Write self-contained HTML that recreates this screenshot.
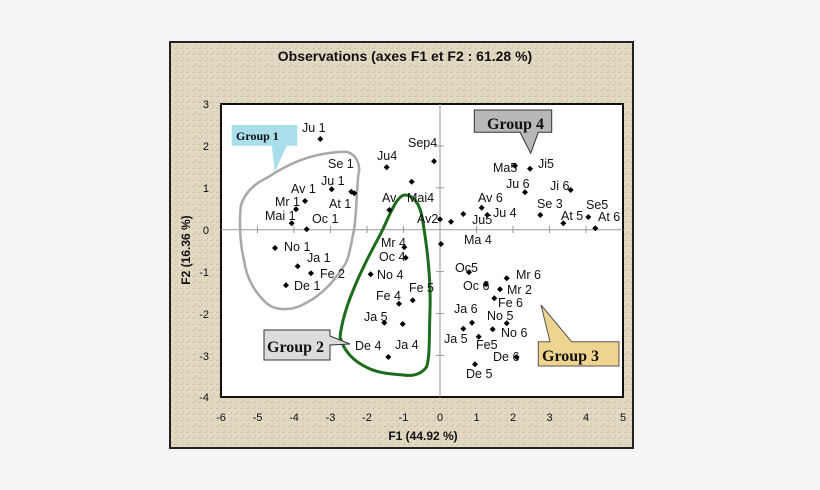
<!DOCTYPE html>
<html><head><meta charset="utf-8"><style>
html,body{margin:0;padding:0;background:#f5f5f5;width:820px;height:490px;overflow:hidden}
svg{position:absolute;left:0;top:0}
text{font-family:"Liberation Sans",sans-serif;font-size:12.5px;fill:#111}
.s{font-family:"Liberation Serif",serif;font-weight:bold}
</style></head><body>
<svg width="820" height="490" viewBox="0 0 820 490">
<defs>
<pattern id="tx" width="6" height="6" patternUnits="userSpaceOnUse">
<rect width="6" height="6" fill="#e2d9c3"/>
<rect x="0" y="0" width="3" height="1" fill="#cfc4a9"/>
<rect x="3" y="3" width="1" height="3" fill="#d4c9af"/>
</pattern>
<path id="d" d="M0,-3 L3,0 L0,3 L-3,0 Z" fill="#000"/>
</defs>
<rect x="170" y="42" width="463" height="406" fill="url(#tx)" stroke="#222" stroke-width="2"/>
<rect x="221" y="104" width="402" height="293" fill="#fff" stroke="#111" stroke-width="2"/>
<text x="405" y="61" text-anchor="middle" font-weight="bold" style="font-size:14px">Observations (axes F1 et F2 : 61.28 %)</text>
<g stroke="#999" stroke-width="1">
<line x1="440" y1="104" x2="440" y2="397"/>
<line x1="221" y1="229.7" x2="623" y2="229.7"/>
<line x1="257.5" y1="226" x2="257.5" y2="233"/><line x1="294" y1="226" x2="294" y2="233"/><line x1="330.5" y1="226" x2="330.5" y2="233"/><line x1="367" y1="226" x2="367" y2="233"/><line x1="403.5" y1="226" x2="403.5" y2="233"/><line x1="476.5" y1="226" x2="476.5" y2="233"/><line x1="513" y1="226" x2="513" y2="233"/><line x1="549.5" y1="226" x2="549.5" y2="233"/><line x1="586" y1="226" x2="586" y2="233"/>
<line x1="436" y1="145.9" x2="444" y2="145.9"/><line x1="436" y1="187.8" x2="444" y2="187.8"/><line x1="436" y1="271.6" x2="444" y2="271.6"/><line x1="436" y1="313.5" x2="444" y2="313.5"/><line x1="436" y1="355.4" x2="444" y2="355.4"/>
</g>
<g text-anchor="end" style="font-size:11px">
<text x="209" y="108" style="font-size:11px">3</text><text x="209" y="150" style="font-size:11px">2</text><text x="209" y="192" style="font-size:11px">1</text><text x="209" y="234" style="font-size:11px">0</text><text x="209" y="276" style="font-size:11px">-1</text><text x="209" y="318" style="font-size:11px">-2</text><text x="209" y="360" style="font-size:11px">-3</text><text x="209" y="401" style="font-size:11px">-4</text>
</g>
<g text-anchor="middle">
<text x="221" y="421" style="font-size:11px">-6</text><text x="257.5" y="421" style="font-size:11px">-5</text><text x="294" y="421" style="font-size:11px">-4</text><text x="330.5" y="421" style="font-size:11px">-3</text><text x="367" y="421" style="font-size:11px">-2</text><text x="403.5" y="421" style="font-size:11px">-1</text><text x="440" y="421" style="font-size:11px">0</text><text x="476.5" y="421" style="font-size:11px">1</text><text x="513" y="421" style="font-size:11px">2</text><text x="549.5" y="421" style="font-size:11px">3</text><text x="586" y="421" style="font-size:11px">4</text><text x="623" y="421" style="font-size:11px">5</text>
</g>
<text x="423" y="440" text-anchor="middle" font-weight="bold" style="font-size:12px">F1 (44.92 %)</text>
<text transform="translate(190,250) rotate(-90)" text-anchor="middle" font-weight="bold" style="font-size:12px">F2 (16.36 %)</text>
<path d="M346.7,151.7 C360,156 360,170 358.3,175 C356,200 356,225 353.3,233.3 C350,250 348,262 343.3,266.7 C332,285 318,298 300,306 C288,311 274,310 266.7,303.3 C252,290 246,275 244,260 C240,245 239,220 241,205 C246,190 258,182 266.7,178 C285,166 310,152 346.7,151.7 Z" fill="none" stroke="#a8a8a8" stroke-width="2.5"/>
<path d="M405,195 C413,195 419,203 421.7,215 C427,245 431,280 430,310 C429,340 430,355 426.7,366.7 C420,376 410,376 403.3,375 C390,374 378,373 368,368 C355,362 344,352 340,337 C342,320 347,305 353.3,290 C362,268 372,250 380,235 C388,220 396,195 405,195 Z" fill="none" stroke="#1d6b1d" stroke-width="3"/>
<path d="M231.7,125 H297.3 V145.7 H286.7 L275,171.7 L271.7,145.7 H231.7 Z" fill="#a9dfea"/>
<text x="236" y="140" class="s" style="font-size:12px">Group 1</text>
<path d="M474.3,110 H551.7 V132.3 H538.3 L530.7,153.3 L520,132.3 H474.3 Z" fill="#b8b8b8" stroke="#333" stroke-width="1"/>
<text x="487" y="129" class="s" style="font-size:16px">Group 4</text>
<path d="M264,330 H330 V336 L350,344 L330,345 V360 H264 Z" fill="#dcdcdc" stroke="#333" stroke-width="1"/>
<text x="267" y="352" class="s" style="font-size:16px">Group 2</text>
<path d="M538.3,341.7 H550 L541,305 L571.7,341.7 H619 V366 H538.3 Z" fill="#efd48f" stroke="#555" stroke-width="1"/>
<text x="542" y="361" class="s" style="font-size:16px">Group 3</text>
<g>
<use href="#d" x="320.3" y="139"/><use href="#d" x="331.7" y="189.3"/><use href="#d" x="351.3" y="191.7"/><use href="#d" x="354.3" y="193.3"/><use href="#d" x="305" y="201"/><use href="#d" x="296" y="209.3"/><use href="#d" x="291.7" y="223.3"/><use href="#d" x="306.7" y="229.3"/><use href="#d" x="275" y="248"/><use href="#d" x="297.7" y="266.3"/><use href="#d" x="311" y="273.3"/><use href="#d" x="286" y="285.3"/>
<use href="#d" x="386.7" y="167.3"/><use href="#d" x="434" y="161.3"/><use href="#d" x="411.7" y="181.7"/><use href="#d" x="389.3" y="210"/><use href="#d" x="440" y="219.3"/><use href="#d" x="451" y="221.7"/><use href="#d" x="463.3" y="214"/><use href="#d" x="441" y="244"/><use href="#d" x="404.3" y="247.3"/><use href="#d" x="405.7" y="257.7"/><use href="#d" x="370.7" y="274.3"/><use href="#d" x="399" y="303.7"/><use href="#d" x="412.7" y="300.3"/><use href="#d" x="384.3" y="322.7"/><use href="#d" x="402.7" y="324"/><use href="#d" x="388.3" y="357"/>
<use href="#d" x="469" y="272.3"/><use href="#d" x="486" y="284.3"/><use href="#d" x="506.7" y="278.3"/><use href="#d" x="500" y="289.3"/><use href="#d" x="494.3" y="298.3"/><use href="#d" x="472" y="322.7"/><use href="#d" x="506.7" y="323.3"/><use href="#d" x="463.3" y="328.7"/><use href="#d" x="492.7" y="329.3"/><use href="#d" x="478.7" y="336.7"/><use href="#d" x="516.7" y="357"/><use href="#d" x="475" y="364.3"/>
<use href="#d" x="515" y="165.7"/><use href="#d" x="530" y="168.7"/><use href="#d" x="525" y="192.3"/><use href="#d" x="570.7" y="190"/><use href="#d" x="481.7" y="207.7"/><use href="#d" x="487.3" y="215"/><use href="#d" x="540.3" y="215"/><use href="#d" x="563.3" y="223.3"/><use href="#d" x="588.3" y="217"/><use href="#d" x="595.3" y="228.3"/>
</g>
<g>
<text x="302" y="132">Ju 1</text><text x="328" y="168">Se 1</text><text x="321" y="185">Ju 1</text><text x="291" y="193">Av 1</text><text x="275" y="206">Mr 1</text><text x="329" y="208">At 1</text><text x="265" y="220">Mai 1</text><text x="312" y="223">Oc 1</text><text x="284" y="251">No 1</text><text x="307" y="262">Ja 1</text><text x="320" y="278">Fe 2</text><text x="294" y="290">De 1</text>
<text x="408" y="147">Sep4</text><text x="377" y="160">Ju4</text><text x="382" y="202">Av</text><text x="407" y="202">Mai4</text><text x="417" y="223">Av2</text><text x="381" y="247">Mr 4</text><text x="379" y="261">Oc 4</text><text x="377" y="279">No 4</text><text x="409" y="292">Fe 5</text><text x="376" y="300">Fe 4</text><text x="364" y="321">Ja 5</text><text x="355" y="350">De 4</text><text x="395" y="349">Ja 4</text>
<text x="464" y="244">Ma 4</text><text x="455" y="272">Oc5</text><text x="463" y="290">Oc 6</text><text x="516" y="279">Mr 6</text><text x="507" y="294">Mr 2</text><text x="498" y="307">Fe 6</text><text x="454" y="313">Ja 6</text><text x="487" y="320">No 5</text><text x="501" y="337">No 6</text><text x="444" y="343">Ja 5</text><text x="476" y="349">Fe5</text><text x="493" y="361">De 6</text><text x="466" y="378">De 5</text>
<text x="493" y="172">Ma5</text><text x="538" y="168">Ji5</text><text x="506" y="188">Ju 6</text><text x="550" y="190">Ji 6</text><text x="478" y="202">Av 6</text><text x="537" y="208">Se 3</text><text x="586" y="209">Se5</text><text x="493" y="217">Ju 4</text><text x="472" y="224">Ju5</text><text x="561" y="220">At 5</text><text x="598" y="221">At 6</text>
</g>
</svg>
</body></html>
